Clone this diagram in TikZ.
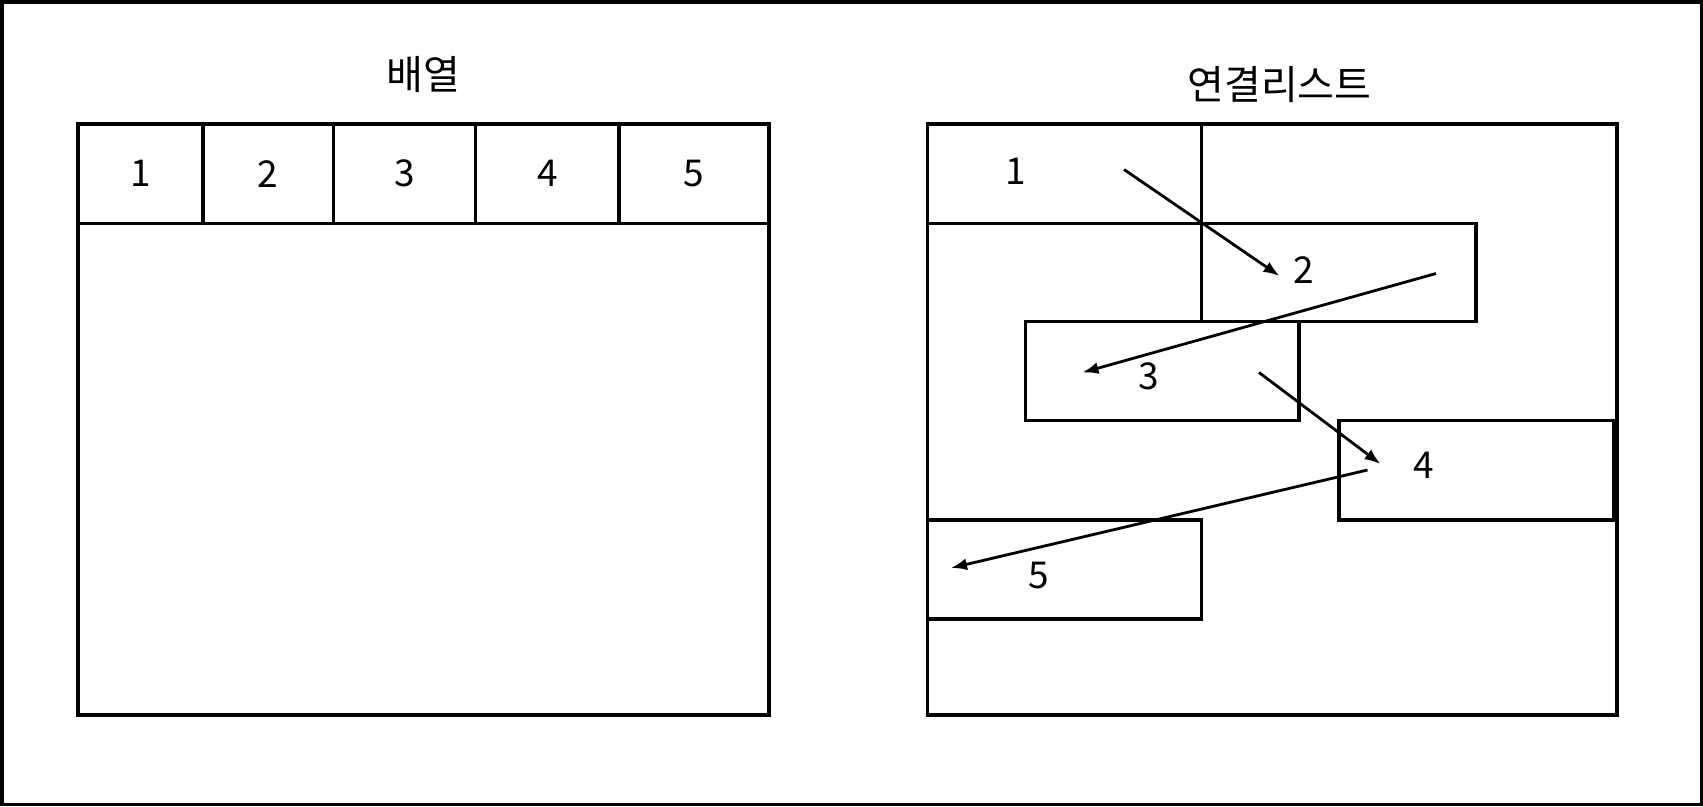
\documentclass[tikz,border=0pt]{standalone}
\usepackage{fontspec}
\setmainfont{Noto Sans CJK KR}
\usetikzlibrary{arrows.meta}
\begin{document}
\begin{tikzpicture}[x=1pt,y=-1pt,
  frame/.style={draw, line width=3.4pt, rectangle, inner sep=0pt},
  cell/.style={frame, minimum height=99.5pt, font=\fontsize{37}{40}\selectfont},
  llnode/.style={frame, minimum width=274pt, minimum height=99pt},
  lbl/.style={inner sep=0pt, font=\fontsize{37}{40}\selectfont},
  ttl/.style={inner sep=0pt, font=\fontsize{40}{44}\selectfont},
  link/.style={line width=2.8pt, -{Latex[length=16pt,width=12pt]}}]
\useasboundingbox (0,0) rectangle (1703,806);
\draw[line width=3.5pt] (1.75,1.75) rectangle (1701.25,804.25);
% array
\node[ttl] (t1) at (423.5,75) {배열};
\node[frame, minimum width=691pt, minimum height=591pt] (arr) at (423.5,419.5) {};
\node[cell, minimum width=125pt] (a1) at (140.5,173.75) {1};
\node[cell, minimum width=130.4pt] (a2) at (268.2,173.75) {2};
\node[cell, minimum width=142.3pt] (a3) at (404.55,173.75) {3};
\node[cell, minimum width=143.3pt] (a4) at (547.35,173.75) {4};
\node[cell, minimum width=150pt] (a5) at (694,173.75) {5};
% linked list
\node[ttl] (t2) at (1279.5,85) {연결리스트};
\node[frame, minimum width=689.5pt, minimum height=591pt] (ll) at (1272.25,419.5) {};
\node[llnode, minimum height=99.5pt] (n1) at (1064.5,173.75) {};
\node[llnode, minimum width=274.5pt, minimum height=98pt] (n2) at (1338.75,272.5) {};
\node[llnode, minimum width=273.5pt] (n3) at (1162.25,371) {};
\node[llnode, minimum width=275pt, minimum height=99.5pt] (n4) at (1476.5,470.25) {};
\node[llnode] (n5) at (1064.5,569.5) {};
\node[lbl] (l1) at (1015.5,171.5) {1};
\node[lbl] (l2) at (1303.5,270.5) {2};
\node[lbl] (l3) at (1149,376) {3};
\node[lbl] (l4) at (1424,465) {4};
\node[lbl] (l5) at (1038.5,575.5) {5};
\coordinate (s1) at (1124,169.5);
\coordinate (e1) at (1279.5,276);
\coordinate (s2) at (1436,273.5);
\coordinate (e2) at (1082.5,372.5);
\coordinate (s3) at (1259,372.5);
\coordinate (e3) at (1380.5,464);
\coordinate (s4) at (1367.5,470);
\coordinate (e4) at (951,568);
\draw[link] (s1) -- (e1);
\draw[link] (s2) -- (e2);
\draw[link] (s3) -- (e3);
\draw[link] (s4) -- (e4);
\end{tikzpicture}
\end{document}
